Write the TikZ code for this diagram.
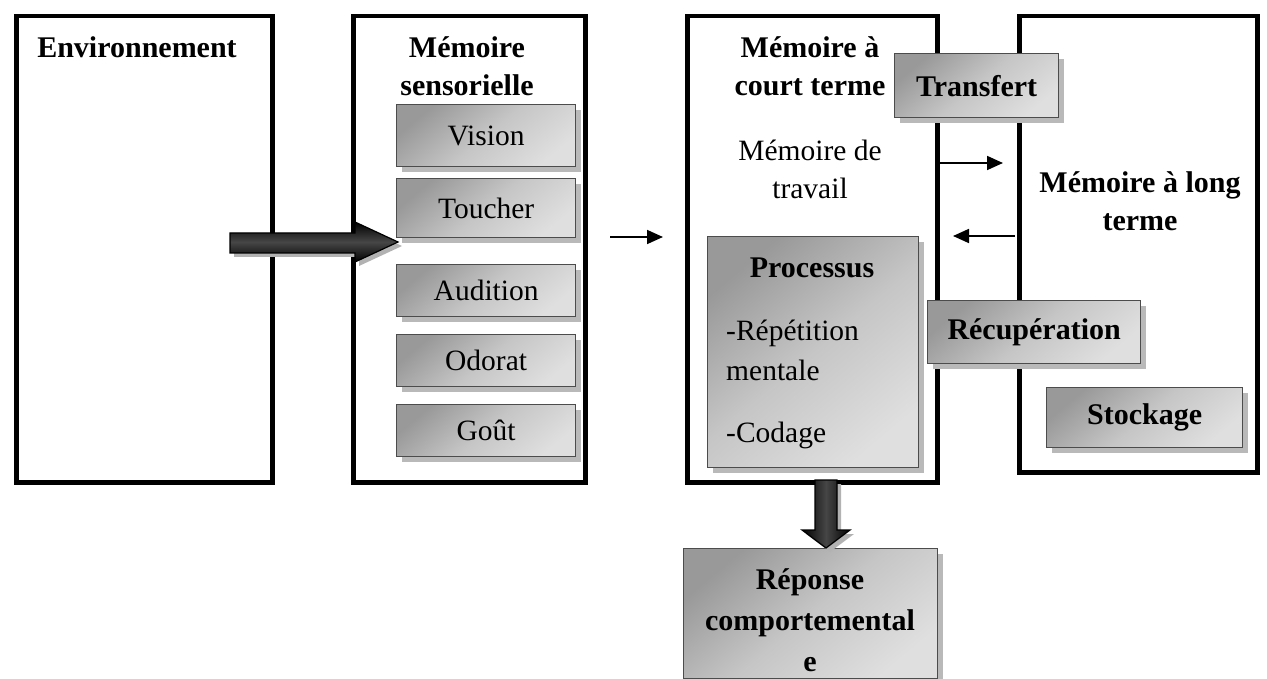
\documentclass[tikz,border=0pt]{standalone}
\usepackage{fontspec}
\setmainfont{Liberation Serif}
\usetikzlibrary{shadows,arrows.meta}
\begin{document}
\begin{tikzpicture}[x=1pt,y=-1pt,
  big/.style={draw=black, line width=4.5pt, anchor=north west, inner sep=0pt},
  gbox/.style={draw=gray!60!black, line width=1.3pt, anchor=north west, inner sep=0pt,
    top color=gray!80, bottom color=gray!25, middle color=gray!45, shading angle=40,
    drop shadow={shadow xshift=5pt, shadow yshift=-5pt, fill=gray!55, opacity=1},
    font=\fontsize{29.5}{38}\selectfont, align=center},
  bgbox/.style={gbox, font=\fontsize{30}{41}\selectfont\bfseries},
  lbl/.style={font=\fontsize{29.5}{38}\selectfont, align=center, inner sep=0pt},
  blbl/.style={lbl, font=\fontsize{30}{38}\selectfont\bfseries},
  thin/.style={line width=1.8pt, -{Triangle[length=16pt,width=14pt]}},
  fatarrow/.style={draw=black, line width=1.2pt, top color=black, bottom color=black, middle color=gray!55!black,
    drop shadow={shadow xshift=4pt, shadow yshift=-4pt, fill=gray!60, opacity=1}},
  fatdown/.style={draw=black, line width=1.2pt, left color=black, right color=black, middle color=gray!55!black,
    drop shadow={shadow xshift=4pt, shadow yshift=-4pt, fill=gray!60, opacity=1}}
]
\useasboundingbox (0,0) rectangle (1267,679);

% main boxes
\node[big, minimum width=256pt, minimum height=466pt] (env) at (14,14) {};
\node[big, minimum width=232pt, minimum height=466pt] (sens) at (351,14) {};
\node[big, minimum width=250pt, minimum height=466pt] (court) at (685,14) {};
\node[big, minimum width=238pt, minimum height=456pt] (long) at (1017,14) {};

% titles
\node[blbl] (tenv) at (137,47) {Environnement};
\node[blbl] (tsens) at (467,66) {Mémoire\\sensorielle};
\node[blbl] (tcourt) at (810,66) {Mémoire à\\court terme};
\node[lbl] (ttrav) at (810,169) {Mémoire de\\travail};
\node[blbl] (tlong) at (1140,201) {Mémoire à long\\terme};

% sensory sub boxes
\node[gbox, minimum width=179pt, minimum height=62pt] (vision) at (396,104) {Vision};
\node[gbox, minimum width=179pt, minimum height=59pt] (toucher) at (396,178) {Toucher};
\node[gbox, minimum width=179pt, minimum height=52pt] (audition) at (396,264) {Audition};
\node[gbox, minimum width=179pt, minimum height=52pt] (odorat) at (396,334) {Odorat};
\node[gbox, minimum width=179pt, minimum height=52pt] (gout) at (396,404) {Goût};

% big arrow env -> sens
\path[fatarrow] (230,233) -- (355,233) -- (355,222) -- (398,242) -- (355,262) -- (355,253) -- (230,253) -- cycle;

% processus
\node[gbox, minimum width=211pt, minimum height=231pt] (proc) at (707,236) {};
\node[blbl] (tproc) at (812,268) {Processus};
\node[lbl, anchor=west, align=left, font=\fontsize{29.5}{40}\selectfont] (trep) at (726,350) {-Répétition\\mentale};
\node[lbl, anchor=west] (tcod) at (726,435) {-Codage};

% long-term sub boxes
\node[bgbox, minimum width=164pt, minimum height=64pt] (transfert) at (894,53) {Transfert};
\node[bgbox, minimum width=213pt, minimum height=63pt] (recup) at (927,300) {Récupération};
\node[bgbox, minimum width=196pt, minimum height=60pt] (stock) at (1046,387) {Stockage};

% thin arrows
\coordinate (a1s) at (610,237);
\coordinate (a1e) at (663,237);
\coordinate (a2s) at (937,163);
\coordinate (a2e) at (1003,163);
\coordinate (a3s) at (1015,236);
\coordinate (a3e) at (953,236);
\draw[thin] (a1s) -- (a1e);
\draw[thin] (a2s) -- (a2e);
\draw[thin] (a3s) -- (a3e);

% response
\node[gbox, minimum width=254pt, minimum height=130pt] (rep) at (683,548) {};
\node[lbl, font=\fontsize{30}{41}\selectfont\bfseries] (trepc) at (810,620) {Réponse\\comportemental\\e};

% down arrow
\path[fatdown] (815,480) -- (837,480) -- (837,530) -- (850,530) -- (826,548) -- (802,530) -- (815,530) -- cycle;
\end{tikzpicture}
\end{document}
